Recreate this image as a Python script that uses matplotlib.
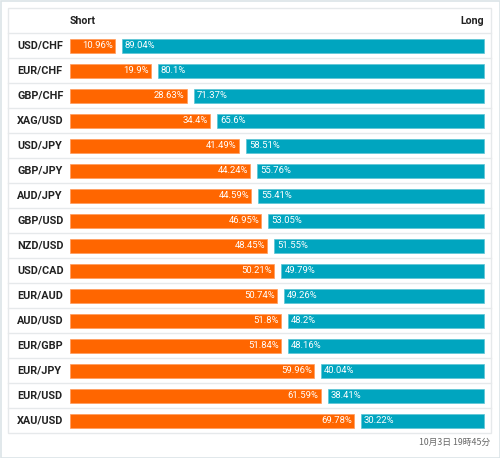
import matplotlib
matplotlib.use("Agg")
import matplotlib.pyplot as plt
from matplotlib.patches import Rectangle

pairs = ["USD/CHF", "EUR/CHF", "GBP/CHF", "XAG/USD", "USD/JPY", "GBP/JPY", "AUD/JPY",
         "GBP/USD", "NZD/USD", "USD/CAD", "EUR/AUD", "AUD/USD", "EUR/GBP", "EUR/JPY",
         "EUR/USD", "XAU/USD"]
short_pct = [10.96, 19.9, 28.63, 34.4, 41.49, 44.24, 44.59, 46.95, 48.45, 50.21,
             50.74, 51.8, 51.84, 59.96, 61.59, 69.78]
long_pct = [89.04, 80.1, 71.37, 65.6, 58.51, 55.76, 55.41, 53.05, 51.55, 49.79,
            49.26, 48.2, 48.16, 40.04, 38.41, 30.22]
timestamp = "10月3日 19時45分"

SHORT_C = "#ff6600"
LONG_C = "#00a5bf"
GRID_C = "#e6e9eb"

plt.rcParams["font.family"] = ["Roboto", "DejaVu Sans"]

fig = plt.figure(figsize=(5, 4.58), dpi=100)
ax = fig.add_axes([0, 0, 1, 1])
ax.set_xlim(0, 500)
ax.set_ylim(458, 0)
ax.axis("off")

# outer frame + table frame
ax.add_patch(Rectangle((0.5, 0.5), 499, 457, fill=False, ec="#dce4e7", lw=1.2))
ax.add_patch(Rectangle((8, 8), 483, 425, fill=False, ec=GRID_C, lw=1))

x0, x1, gap = 70, 484, 7
span = x1 - x0 - gap
row_h, top = 25, 33
bar_h = 14

ax.text(x0, 20.5, "Short", fontsize=7.7, fontweight="bold", color="#222222", va="center", ha="left")
ax.text(x1, 20.5, "Long", fontsize=7.7, fontweight="bold", color="#222222", va="center", ha="right")

for i, (p, s, l) in enumerate(zip(pairs, short_pct, long_pct)):
    yc = top + row_h * i + row_h / 2
    ax.plot([8, 491], [top + row_h * i, top + row_h * i], color=GRID_C, lw=1)
    ax.text(17, yc, p, fontsize=7.8, fontweight="bold", color="#222222", va="center", ha="left")
    ws = span * s / (s + l)
    wl = span * l / (s + l)
    ax.barh(yc, ws, left=x0, height=bar_h, color=SHORT_C, edgecolor="#ff9a5c", lw=0.5)
    ax.barh(yc, wl, left=x0 + ws + gap, height=bar_h, color=LONG_C, edgecolor="#5cc5d5", lw=0.5)
    ax.text(x0 + ws - 2, yc, f"{s:g}%", fontsize=6.8, color="white", va="center", ha="right")
    ax.text(x0 + ws + gap + 3, yc, f"{l:g}%", fontsize=6.8, color="white", va="center", ha="left")

ax.text(490, 442, timestamp, fontsize=6.3, color="#666666", va="center", ha="right",
        family=["Noto Sans CJK JP", "DejaVu Sans"])

fig.savefig("out.png", dpi=100)
